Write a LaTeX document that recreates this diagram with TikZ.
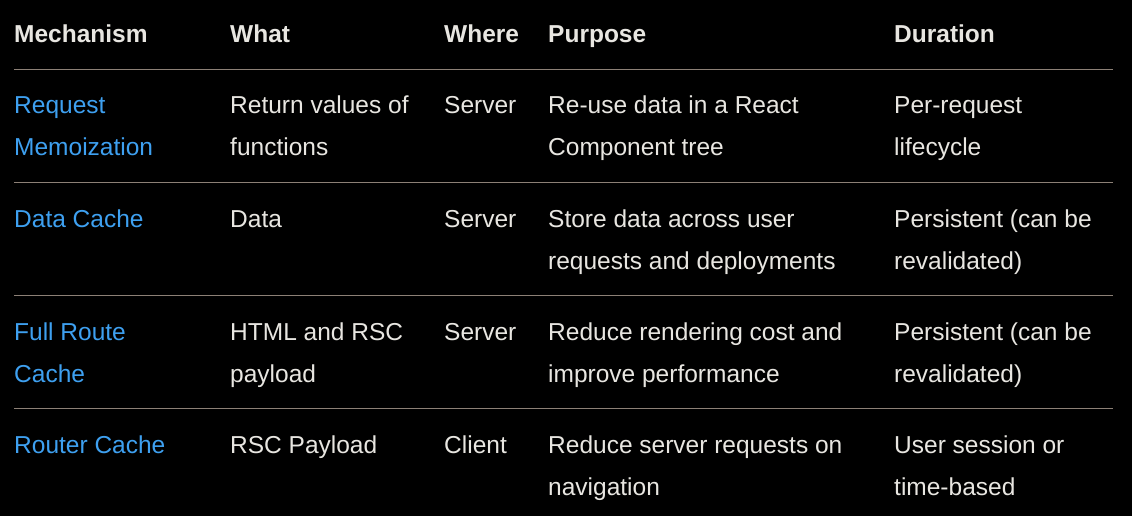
\documentclass[tikz,border=0pt]{standalone}
\usepackage{fontspec}
\setmainfont{Liberation Sans}
\definecolor{bg}{RGB}{0,0,0}
\definecolor{txt}{RGB}{232,230,225}
\definecolor{lnk}{RGB}{62,160,240}
\definecolor{rule}{RGB}{140,128,118}
\begin{document}
\begin{tikzpicture}[x=1pt,y=-1pt,
  cell/.style={anchor=base west,inner sep=0pt,text=txt,font=\fontsize{24.5}{29}\selectfont},
  head/.style={cell,font=\fontsize{24.5}{29}\selectfont\bfseries},
  mech/.style={cell,text=lnk},
  sep/.style={draw=rule,line width=1pt}]
\fill[bg] (0,0) rectangle (1132,516);
\useasboundingbox (0,0) rectangle (1132,516);
% header
\node[head] (h1) at (14,43) {Mechanism};
\node[head] (h2) at (230,43) {What};
\node[head] (h3) at (444,43) {Where};
\node[head] (h4) at (548,43) {Purpose};
\node[head] (h5) at (894,43) {Duration};
% separators
\coordinate (l0a) at (14,69.5); \coordinate (l0b) at (1113,69.5);
\coordinate (l1a) at (14,182.5); \coordinate (l1b) at (1113,182.5);
\coordinate (l2a) at (14,295.5); \coordinate (l2b) at (1113,295.5);
\coordinate (l3a) at (14,408.5); \coordinate (l3b) at (1113,408.5);
\draw[sep] (l0a) -- (l0b);
\draw[sep] (l1a) -- (l1b);
\draw[sep] (l2a) -- (l2b);
\draw[sep] (l3a) -- (l3b);
% row 1
\node[mech] (r1c1a) at (14,114) {Request};
\node[mech] (r1c1b) at (14,156) {Memoization};
\node[cell] (r1c2a) at (230,114) {Return values of};
\node[cell] (r1c2b) at (230,156) {functions};
\node[cell] (r1c3) at (444,114) {Server};
\node[cell] (r1c4a) at (548,114) {Re-use data in a React};
\node[cell] (r1c4b) at (548,156) {Component tree};
\node[cell] (r1c5a) at (894,114) {Per-request};
\node[cell] (r1c5b) at (894,156) {lifecycle};
% row 2
\node[mech] (r2c1) at (14,227) {Data Cache};
\node[cell] (r2c2) at (230,227) {Data};
\node[cell] (r2c3) at (444,227) {Server};
\node[cell] (r2c4a) at (548,227) {Store data across user};
\node[cell] (r2c4b) at (548,269) {requests and deployments};
\node[cell] (r2c5a) at (894,227) {Persistent (can be};
\node[cell] (r2c5b) at (894,269) {revalidated)};
% row 3
\node[mech] (r3c1a) at (14,340) {Full Route};
\node[mech] (r3c1b) at (14,382) {Cache};
\node[cell] (r3c2a) at (230,340) {HTML and RSC};
\node[cell] (r3c2b) at (230,382) {payload};
\node[cell] (r3c3) at (444,340) {Server};
\node[cell] (r3c4a) at (548,340) {Reduce rendering cost and};
\node[cell] (r3c4b) at (548,382) {improve performance};
\node[cell] (r3c5a) at (894,340) {Persistent (can be};
\node[cell] (r3c5b) at (894,382) {revalidated)};
% row 4
\node[mech] (r4c1) at (14,453) {Router Cache};
\node[cell] (r4c2) at (230,453) {RSC Payload};
\node[cell] (r4c3) at (444,453) {Client};
\node[cell] (r4c4a) at (548,453) {Reduce server requests on};
\node[cell] (r4c4b) at (548,495) {navigation};
\node[cell] (r4c5a) at (894,453) {User session or};
\node[cell] (r4c5b) at (894,495) {time-based};
\end{tikzpicture}
\end{document}
